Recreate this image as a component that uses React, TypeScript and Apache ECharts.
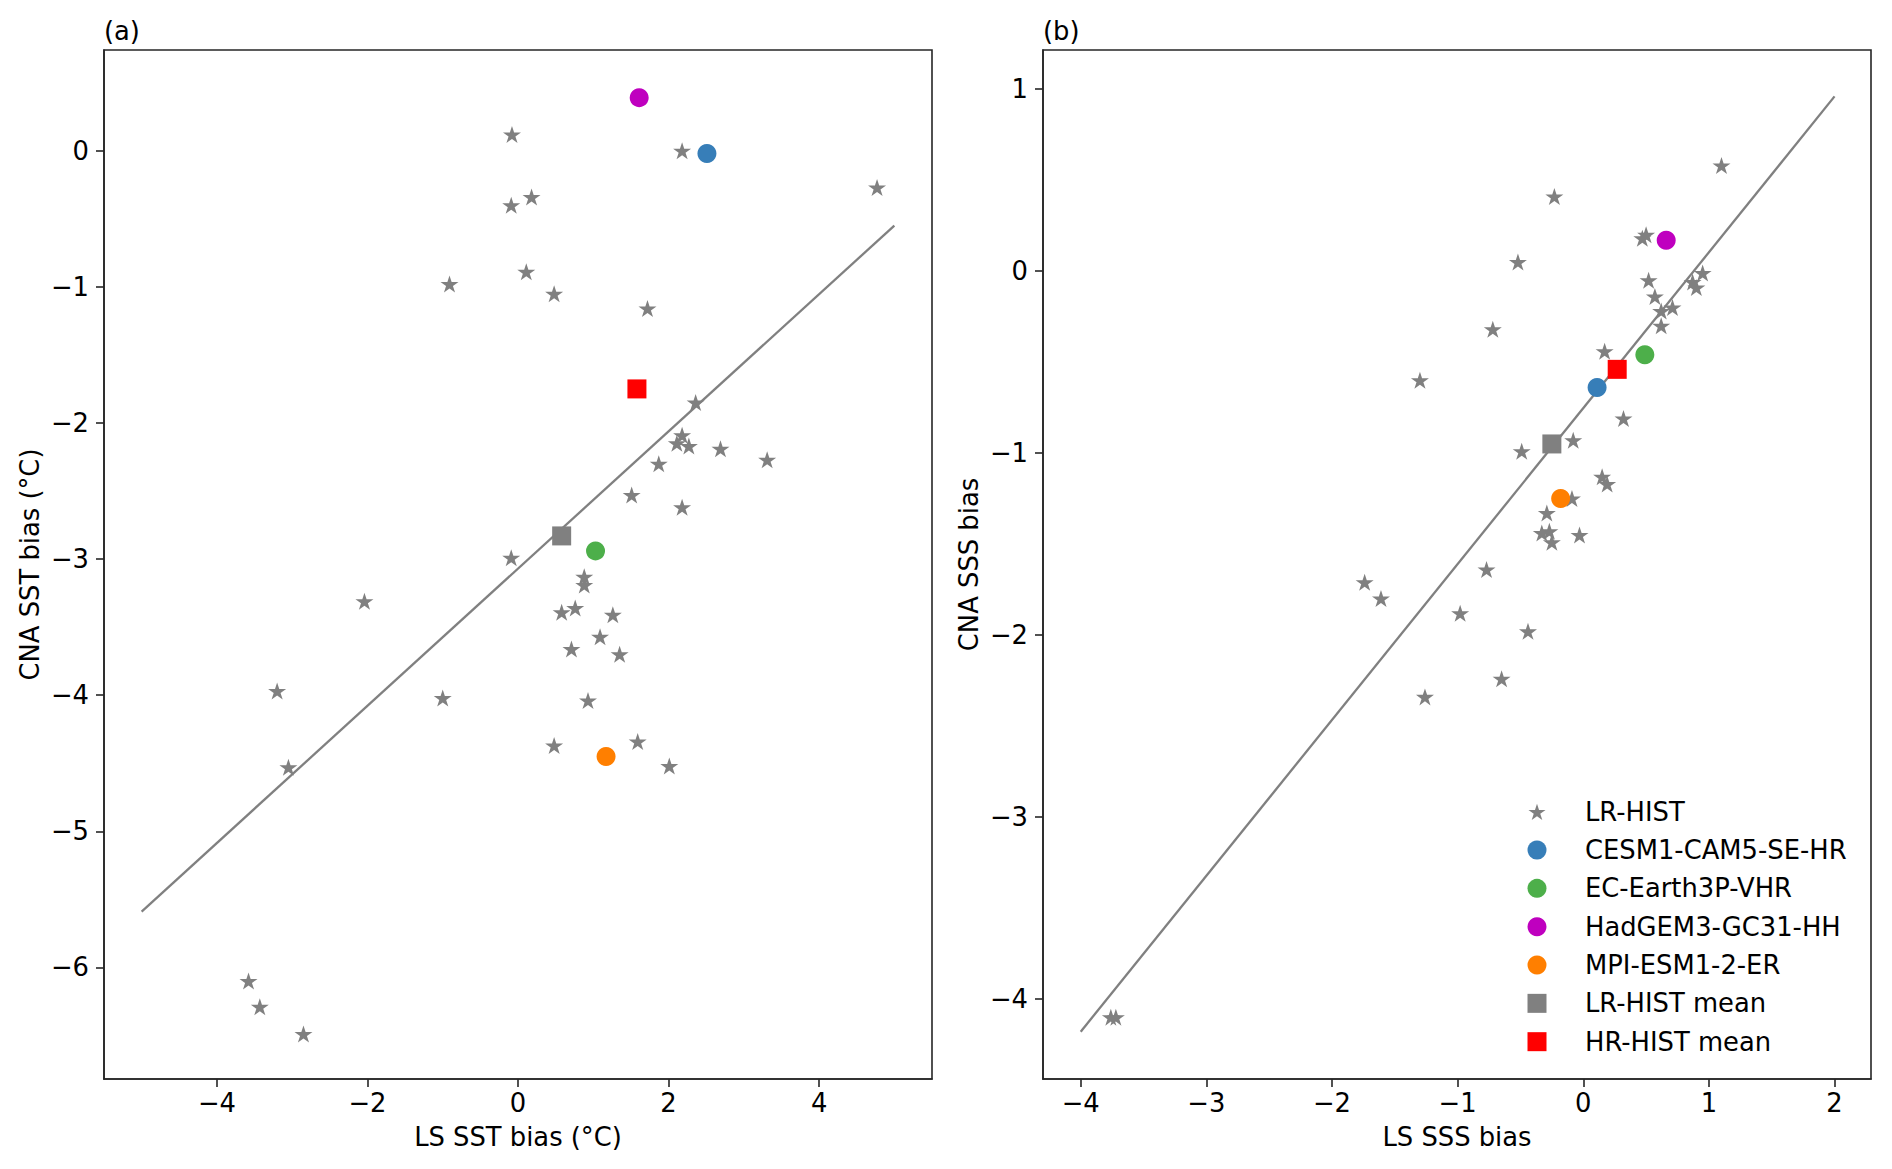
import React, { useEffect, useRef } from "react";
import * as echarts from "echarts";

// ---------------- data ----------------
const hrModels = ["CESM1-CAM5-SE-HR", "EC-Earth3P-VHR", "HadGEM3-GC31-HH", "MPI-ESM1-2-ER"];

// Panel (a): LS SST bias vs CNA SST bias
const sstStars: number[][] = [
  [-0.08, 0.12], [2.18, 0.0], [4.77, -0.27], [-0.09, -0.4], [0.18, -0.34],
  [-0.91, -0.98], [0.11, -0.89], [0.48, -1.05], [1.72, -1.16], [2.36, -1.85],
  [2.18, -2.09], [2.11, -2.15], [2.27, -2.17], [2.69, -2.19], [3.31, -2.27],
  [1.87, -2.3], [1.51, -2.53], [2.18, -2.62], [-0.09, -2.99], [0.88, -3.13],
  [0.88, -3.19], [-2.04, -3.31], [0.58, -3.39], [0.76, -3.36], [1.26, -3.41],
  [1.09, -3.57], [0.71, -3.66], [1.35, -3.7], [-3.2, -3.97], [-1.0, -4.02],
  [0.93, -4.04], [0.48, -4.37], [1.59, -4.34], [2.01, -4.52], [-3.05, -4.53],
  [-3.58, -6.1], [-3.43, -6.29], [-2.85, -6.49],
];
const sstHR: number[][] = [[2.51, -0.02], [1.03, -2.94], [1.61, 0.39], [1.17, -4.45]];
const sstLRMean = [0.58, -2.83];
const sstHRMean = [1.58, -1.75];
const sstFit: number[][] = [[-5, -5.59], [5, -0.55]];
const sstStat = { text: "r=0.54 p<0.01", at: [-3.5, -4.935] };
const sstXTicks = [-4, -2, 0, 2, 4];
const sstYTicks = [-6, -5, -4, -3, -2, -1, 0];

// Panel (b): LS SSS bias vs CNA SSS bias
const sssStars: number[][] = [
  [1.1, 0.58], [-0.23, 0.41], [0.47, 0.18], [0.5, 0.2], [-0.52, 0.05],
  [0.52, -0.05], [0.95, -0.01], [0.87, -0.06], [0.9, -0.09], [0.57, -0.14],
  [0.62, -0.22], [0.71, -0.2], [0.62, -0.3], [-0.72, -0.32], [0.17, -0.44],
  [-1.3, -0.6], [0.32, -0.81], [-0.08, -0.93], [-0.49, -0.99], [0.15, -1.13],
  [0.19, -1.17], [-0.09, -1.25], [-0.29, -1.33], [-0.33, -1.44], [-0.27, -1.43],
  [-0.25, -1.49], [-0.03, -1.45], [-0.77, -1.64], [-1.74, -1.71], [-1.61, -1.8],
  [-0.98, -1.88], [-0.44, -1.98], [-0.65, -2.24], [-1.26, -2.34],
  [-3.76, -4.1], [-3.72, -4.1],
];
const sssHR: number[][] = [[0.11, -0.64], [0.49, -0.46], [0.66, 0.17], [-0.18, -1.25]];
const sssLRMean = [-0.25, -0.95];
const sssHRMean = [0.27, -0.54];
const sssFit: number[][] = [[-4, -4.18], [2, 0.96]];
const sssStat = { text: "r=0.86 p<0.01", at: [-3.0, -3.76] };
const sssXTicks = [-4, -3, -2, -1, 0, 1, 2];
const sssYTicks = [-4, -3, -2, -1, 0, 1];

const legendNames = ["LR-HIST", ...hrModels, "LR-HIST mean", "HR-HIST mean"];

// ---------------- styles ----------------
const FONT = "DejaVu Sans";
const FS = 25.8;
const GREY = "#808080";
const HR_COLORS = ["#377eb8", "#4daf4a", "#bf00bf", "#ff7f00"];
const AXIS_COLOR = "#262626";
const STAR_PATH =
  "path://M50 0 L61.23 34.55 L97.55 34.55 L68.17 55.9 L79.39 90.45 L50 69.1 L20.61 90.45 L31.83 55.9 L2.45 34.55 L38.77 34.55 Z";

const fmt = (v: number) => String(v).replace("-", "\u2212");

function starPoints(cx: number, cy: number, R: number): number[][] {
  const pts: number[][] = [];
  const r = R * 0.382;
  for (let i = 0; i < 10; i++) {
    const ang = -Math.PI / 2 + (i * Math.PI) / 5;
    const rad = i % 2 === 0 ? R : r;
    pts.push([cx + rad * Math.cos(ang), cy + rad * Math.sin(ang)]);
  }
  return pts;
}

function makeAxis(gridIndex: number, min: number, max: number, ticks: number[], name: string, isX: boolean) {
  return {
    type: "value",
    gridIndex,
    min,
    max,
    name,
    nameLocation: "middle",
    nameGap: isX ? 45 : 61,
    nameTextStyle: { fontSize: FS, color: "#000", fontFamily: FONT },
    axisLine: { show: true, onZero: false, lineStyle: { color: AXIS_COLOR, width: 1.6 } },
    axisTick: { show: true, length: 8, customValues: ticks, lineStyle: { color: AXIS_COLOR, width: 1.6 } },
    axisLabel: {
      customValues: ticks,
      formatter: fmt,
      fontSize: FS,
      color: "#000",
      fontFamily: FONT,
      margin: isX ? 11 : 15,
    },
    splitLine: { show: false },
  };
}

function panelSeries(
  idx: number,
  stars: number[][],
  hr: number[][],
  lrMean: number[],
  hrMean: number[],
  fit: number[][],
  stat: { text: string; at: number[] }
) {
  const base = { xAxisIndex: idx, yAxisIndex: idx, silent: true };
  const s: any[] = [
    {
      ...base,
      type: "line",
      data: fit,
      symbol: "none",
      lineStyle: { color: GREY, width: 2.3 },
      z: 1,
    },
    {
      ...base,
      type: "scatter",
      name: "LR-HIST",
      data: stars,
      symbol: STAR_PATH,
      symbolSize: [18, 17],
      itemStyle: { color: GREY, opacity: 1 },
      z: 2,
    },
  ];
  hr.forEach((p, i) => {
    s.push({
      ...base,
      type: "scatter",
      name: hrModels[i],
      data: [p],
      symbol: "circle",
      symbolSize: 19,
      itemStyle: { color: HR_COLORS[i], opacity: 1 },
      z: 3,
    });
  });
  s.push({
    ...base,
    type: "scatter",
    name: "LR-HIST mean",
    data: [lrMean],
    symbol: "rect",
    symbolSize: 19,
    itemStyle: { color: GREY, opacity: 1 },
    z: 4,
  });
  s.push({
    ...base,
    type: "scatter",
    name: "HR-HIST mean",
    data: [hrMean],
    symbol: "rect",
    symbolSize: 19,
    itemStyle: { color: "#ff0000", opacity: 1 },
    z: 4,
  });
  s.push({
    ...base,
    type: "scatter",
    data: [stat.at],
    symbolSize: 0,
    itemStyle: { opacity: 0 },
    label: {
      show: true,
      formatter: stat.text,
      position: "right",
      distance: 0,
      fontSize: FS,
      color: "#000",
      fontFamily: FONT,
    },
    z: 5,
  });
  return s;
}

export default function App() {
  const ref = useRef<HTMLDivElement>(null);

  useEffect(() => {
    document.body.style.margin = "0";
    if (!ref.current) return;
    const chart = echarts.init(ref.current, undefined, { renderer: "svg" });

    const legendX = 1537;
    const legendTextX = 1585;
    const legendY0 = 811.7;
    const legendDy = 38.33;
    const legendGraphics: any[] = [];
    legendNames.forEach((name, i) => {
      const cy = legendY0 + i * legendDy;
      if (i === 0) {
        legendGraphics.push({
          type: "polygon",
          shape: { points: starPoints(legendX, cy + 1, 9) },
          style: { fill: GREY },
        });
      } else if (i <= hrModels.length) {
        legendGraphics.push({
          type: "circle",
          shape: { cx: legendX, cy, r: 9.5 },
          style: { fill: HR_COLORS[i - 1] },
        });
      } else {
        legendGraphics.push({
          type: "rect",
          shape: { x: legendX - 9.5, y: cy - 9.5, width: 19, height: 19 },
          style: { fill: i === legendNames.length - 2 ? GREY : "#ff0000" },
        });
      }
      legendGraphics.push({
        type: "text",
        x: legendTextX,
        y: cy,
        style: {
          text: name,
          fontSize: FS,
          fontFamily: FONT,
          fill: "#000",
          align: "left",
          verticalAlign: "middle",
        },
      });
    });

    const option: any = {
      animation: false,
      backgroundColor: "#ffffff",
      textStyle: { fontFamily: FONT },
      grid: [
        { left: 104, top: 50, width: 828, height: 1029, show: true, borderColor: AXIS_COLOR, borderWidth: 1.6, backgroundColor: "transparent" },
        { left: 1043, top: 50, width: 828, height: 1029, show: true, borderColor: AXIS_COLOR, borderWidth: 1.6, backgroundColor: "transparent" },
      ],
      xAxis: [
        makeAxis(0, -5.5, 5.5, sstXTicks, "LS SST bias (\u00b0C)", true),
        makeAxis(1, -4.3, 2.29, sssXTicks, "LS SSS bias", true),
      ],
      yAxis: [
        makeAxis(0, -6.82, 0.74, sstYTicks, "CNA SST bias (\u00b0C)", false),
        makeAxis(1, -4.44, 1.215, sssYTicks, "CNA SSS bias", false),
      ],
      series: [
        ...panelSeries(0, sstStars, sstHR, sstLRMean, sstHRMean, sstFit, sstStat),
        ...panelSeries(1, sssStars, sssHR, sssLRMean, sssHRMean, sssFit, sssStat),
      ],
      graphic: [
        {
          type: "text",
          x: 104,
          y: 31,
          style: { text: "(a)", fontSize: FS, fontFamily: FONT, fill: "#000", align: "left", verticalAlign: "middle" },
        },
        {
          type: "text",
          x: 1043,
          y: 31,
          style: { text: "(b)", fontSize: FS, fontFamily: FONT, fill: "#000", align: "left", verticalAlign: "middle" },
        },
        ...legendGraphics,
      ],
    };
    chart.setOption(option);
    return () => chart.dispose();
  }, []);

  return <div ref={ref} style={{ width: 1892, height: 1169 }} />;
}
